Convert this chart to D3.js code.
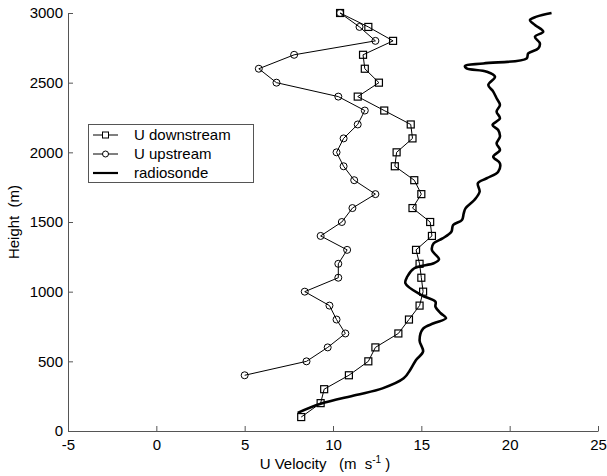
<!DOCTYPE html>
<html>
<head>
<meta charset="utf-8">
<script src="https://cdn.jsdelivr.net/npm/d3@7"></script>
<style>
  body { margin: 0; background: #fff; }
  svg { font-family: "Liberation Sans", Arial, sans-serif; }
</style>
</head>
<body>
<div id="container"></div>
<script>
const WIDTH = 607;
const HEIGHT = 476;

// heights (m) of the profile points
const downHeights = [100, 200, 300, 400, 500, 600, 700, 800, 900, 1000, 1100, 1200, 1300, 1400, 1500,
  1600, 1700, 1800, 1900, 2000, 2100, 2200, 2300, 2400, 2500, 2600, 2700, 2800, 2900, 3000];
const downU = [8.2, 9.3, 9.5, 10.9, 12.0, 12.4, 13.7, 14.3, 14.9, 15.1, 15.0, 14.9, 14.7, 15.6, 15.5,
  14.5, 15.0, 14.6, 13.5, 13.6, 14.5, 14.4, 12.9, 11.4, 12.6, 11.8, 11.7, 13.4, 12.0, 10.4];

const upHeights = [400, 500, 600, 700, 800, 900, 1000, 1100, 1200, 1300, 1400, 1500, 1600, 1700,
  1800, 1900, 2000, 2100, 2200, 2300, 2400, 2500, 2600, 2700, 2800, 2900, 3000];
const upU = [5.0, 8.5, 9.7, 10.7, 10.2, 9.8, 8.4, 10.3, 10.3, 10.8, 9.3, 10.5, 11.1, 12.4,
  11.2, 10.6, 10.2, 10.6, 11.4, 11.8, 10.3, 6.8, 5.8, 7.8, 12.4, 11.5, 10.4];

const radioHeights = [130, 195, 258, 306, 378, 445, 510, 570, 650, 735, 773, 810, 845, 892, 928, 976,
  1060, 1107, 1168, 1204, 1232, 1299, 1347, 1382, 1430, 1478, 1514, 1562, 1598, 1658, 1718, 1778,
  1814, 1861, 1921, 1969, 2017, 2064, 2112, 2160, 2196, 2244, 2292, 2340, 2388, 2436, 2484, 2543,
  2579, 2603, 2620, 2638, 2674, 2710, 2746, 2782, 2830, 2866, 2914, 2950, 2974, 3000];
const radioU = [8.0, 9.3, 11.3, 12.8, 14.0, 14.4, 14.7, 15.1, 14.9, 15.1, 15.7, 16.4, 16.1, 15.8, 15.8, 15.0,
  14.1, 14.2, 14.6, 15.7, 16.0, 15.6, 15.7, 16.2, 16.7, 16.8, 17.3, 17.4, 17.5, 18.0, 18.3, 18.2,
  18.7, 19.35, 19.45, 19.07, 19.45, 19.26, 19.45, 19.35, 19.03, 19.45, 19.26, 19.45, 19.26, 19.07, 18.79, 19.17,
  18.7, 17.56, 17.47, 18.51, 20.96, 21.05, 21.62, 21.71, 21.43, 21.9, 21.43, 21.15, 21.52, 22.37];

const xTicks = [-5, 0, 5, 10, 15, 20, 25];
const yTicks = [0, 500, 1000, 1500, 2000, 2500, 3000];
const legendLabels = ["U downstream", "U upstream", "radiosonde"];

const AXIS_COLOR = "#555";

const svg = d3.select("#container")
  .append("svg")
  .attr("width", WIDTH)
  .attr("height", HEIGHT);

const x = d3.scaleLinear().domain([-5, 25]).range([68, 598]);
const y = d3.scaleLinear().domain([0, 3000]).range([431, 13]);

const zip = (us, hs) => us.map((u, i) => [u, hs[i]]);
const downData = zip(downU, downHeights);
const upData = zip(upU, upHeights);
const radioData = zip(radioU, radioHeights);

const line = d3.line().x((d) => x(d[0])).y((d) => y(d[1]));

// axes, ticks pointing inward, plain "-" in labels
const xAxis = d3.axisBottom(x).tickValues(xTicks).tickFormat((d) => String(d))
  .tickSizeInner(-5).tickSizeOuter(0).tickPadding(8);
const yAxis = d3.axisLeft(y).tickValues(yTicks).tickFormat((d) => String(d))
  .tickSizeInner(-5).tickSizeOuter(0).tickPadding(5);

const gx = svg.append("g").attr("transform", `translate(0, ${y(0)})`).call(xAxis);
const gy = svg.append("g").attr("transform", `translate(${x(-5)}, 0)`).call(yAxis);

[gx, gy].forEach((g) => {
  g.select(".domain").attr("stroke", AXIS_COLOR);
  g.selectAll(".tick line").attr("stroke", AXIS_COLOR);
  g.selectAll(".tick text").attr("fill", "#000").style("font-size", "15px")
    .attr("font-family", "Liberation Sans, Arial, sans-serif");
});

// axis titles
const xTitle = svg.append("text")
  .attr("x", 325)
  .attr("y", 469)
  .attr("text-anchor", "middle")
  .style("font-size", "15px");
xTitle.append("tspan").text("U Velocity\u00a0\u00a0 (m\u00a0\u00a0s");
xTitle.append("tspan").attr("dy", -6).style("font-size", "10px").text("-1");
xTitle.append("tspan").attr("dy", 6).text(" )");

svg.append("text")
  .attr("transform", "translate(19, 222) rotate(-90)")
  .attr("text-anchor", "middle")
  .style("font-size", "15px")
  .text("Height\u00a0\u00a0(m)");

// radiosonde
svg.append("path")
  .attr("fill", "none")
  .attr("stroke", "#000")
  .attr("stroke-width", 2.6)
  .attr("stroke-linejoin", "round")
  .attr("d", line.curve(d3.curveCatmullRom)(radioData));

line.curve(d3.curveLinear);

// upstream
svg.append("path")
  .attr("fill", "none")
  .attr("stroke", "#000")
  .attr("stroke-width", 1)
  .attr("d", line(upData));

svg.selectAll("circle.up")
  .data(upData)
  .enter()
  .append("circle")
  .attr("class", "up")
  .attr("cx", (d) => x(d[0]))
  .attr("cy", (d) => y(d[1]))
  .attr("r", 3.5)
  .attr("fill", "none")
  .attr("stroke", "#000")
  .attr("stroke-width", 1);

// downstream
svg.append("path")
  .attr("fill", "none")
  .attr("stroke", "#000")
  .attr("stroke-width", 1)
  .attr("d", line(downData));

svg.selectAll("rect.down")
  .data(downData)
  .enter()
  .append("rect")
  .attr("class", "down")
  .attr("x", (d) => x(d[0]) - 3.5)
  .attr("y", (d) => y(d[1]) - 3.5)
  .attr("width", 7)
  .attr("height", 7)
  .attr("fill", "none")
  .attr("stroke", "#000")
  .attr("stroke-width", 1.2);

// legend
const legend = svg.append("g");
legend.append("rect")
  .attr("x", 88.5)
  .attr("y", 124.5)
  .attr("width", 165)
  .attr("height", 58)
  .attr("fill", "#fff")
  .attr("stroke", AXIS_COLOR);

const rowY = d3.scalePoint().domain(legendLabels).range([135, 173]);

legendLabels.forEach((label, i) => {
  const cy = rowY(label);
  legend.append("line")
    .attr("x1", 93).attr("x2", 118)
    .attr("y1", cy).attr("y2", cy)
    .attr("stroke", "#000")
    .attr("stroke-width", i === 2 ? 2.2 : 1);
  if (i === 0) {
    legend.append("rect")
      .attr("x", 102.5).attr("y", cy - 3)
      .attr("width", 6).attr("height", 6)
      .attr("fill", "#fff").attr("stroke", "#000");
  } else if (i === 1) {
    legend.append("circle")
      .attr("cx", 105.5).attr("cy", cy).attr("r", 3)
      .attr("fill", "#fff").attr("stroke", "#000");
  }
  legend.append("text")
    .attr("x", 134)
    .attr("y", cy)
    .attr("dy", "0.35em")
    .style("font-size", "15px")
    .text(label);
});
</script>
</body>
</html>
